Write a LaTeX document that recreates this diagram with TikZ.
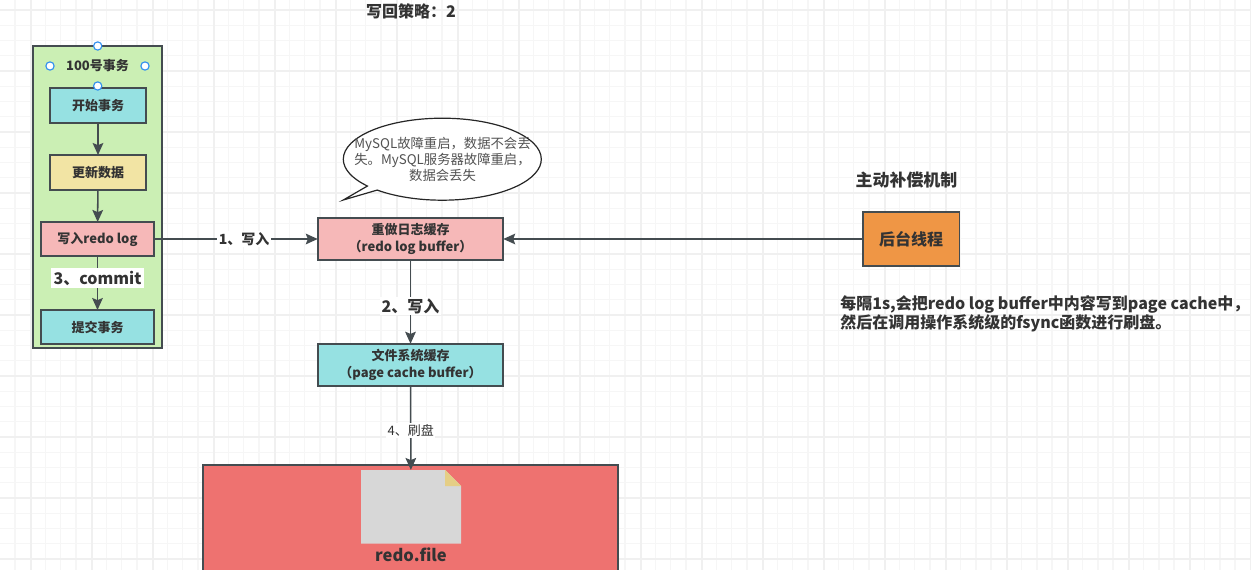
\documentclass[tikz,border=0pt]{standalone}
\usepackage{fontspec}
\setmainfont{Noto Sans CJK SC}
\usetikzlibrary{arrows.meta,shapes.callouts,shapes.geometric}
\definecolor{ink}{HTML}{333333}
\definecolor{edge}{HTML}{444C50}
\definecolor{teal}{HTML}{96E1E2}
\definecolor{straw}{HTML}{F2E4A4}
\definecolor{rose}{HTML}{F6B8B8}
\definecolor{leaf}{HTML}{CBEFB4}
\definecolor{amber}{HTML}{EF9645}
\definecolor{brick}{HTML}{EE7270}
\definecolor{fold}{HTML}{E5CE85}
\definecolor{hblue}{HTML}{2F8FEF}
\tikzset{
  x=0.75pt,y=-0.75pt,
  px/.style 2 args={minimum width=#1*0.75pt,minimum height=#2*0.75pt,inner sep=0pt,outer sep=0pt},
  box/.style={draw=edge,line width=1.15pt,text=ink,font=\bfseries\fontsize{9.75pt}{12.6pt}\selectfont,align=center},
  flow/.style={draw=edge,line width=1.15pt,-{Stealth[length=9pt,width=8pt,inset=1.6pt]}},
  lbl/.style={fill=white,text=ink,inner sep=1pt},
  txt/.style={text=ink,inner sep=0pt,font=\bfseries\fontsize{12pt}{14pt}\selectfont},
  handle/.style={circle,draw=hblue,fill=white,line width=0.85pt,minimum size=6.2pt,inner sep=0pt},
  gridminor/.style={draw=black!3.5,line width=1.1pt},
  gridmajor/.style={draw=black!6,line width=1.4pt},
}
\begin{document}
\begin{tikzpicture}
\useasboundingbox (0,0) rectangle (1251,570);
\clip (0,0) rectangle (1251,570);
\fill[white] (0,0) rectangle (1251,570);
% grid
\foreach \i in {0,...,82}{\draw[gridminor] ({-0.25+15.25*\i},0) -- ({-0.25+15.25*\i},570);}
\foreach \i in {0,...,37}{\draw[gridminor] (0,{10+15.25*(\i-1)}) -- (1251,{10+15.25*(\i-1)});}
\foreach \i in {0,...,20}{\draw[gridmajor] ({30.7+61*\i},0) -- ({30.7+61*\i},570);}
\foreach \i in {0,...,9}{\draw[gridmajor] (0,{10+61*\i}) -- (1251,{10+61*\i});}
% title
\node[txt] (policy) at (411,11) {写回策略：2};
% transaction container
\node[box,fill=leaf,px={129}{302}] (tx) at (97.5,197) {};
\node[box,draw=none,fill=none] (txname) at (97.5,66) {100号事务};
\node[box,fill=teal,px={96}{35}] (start) at (98,105.5) {开始事务};
\node[box,fill=straw,px={96}{35}] (update) at (98,172.5) {更新数据};
\node[box,fill=rose,px={113}{34}] (write) at (97.5,239) {写入redo log};
\node[box,fill=teal,px={113}{34}] (commit) at (97.5,327) {提交事务};
\node[handle] (h1) at (97.7,46) {};
\node[handle] (h2) at (50,66) {};
\node[handle] (h3) at (145,66) {};
\node[handle] (h4) at (97.7,86) {};
% centre column
\node[box,fill=rose,px={185.5}{42.5}] (buffer) at (410.5,239) {重做日志缓存\\（redo log buffer）};
\node[box,fill=teal,px={185.5}{42.5}] (cache) at (410.5,365) {文件系统缓存\\（page cache buffer）};
\node[box,fill=brick,px={415.5}{140}] (disk) at (410.5,535) {};
\fill[black!15.5] (361,470) -- (445,470) -- (461,486) -- (461,543.7) -- (361,543.7) -- cycle;
\fill[fold] (445,470) -- (461,486) -- (445,486) -- cycle;
\node[px={100}{73.7}] (doc) at (411,506.8) {};
\node[txt,font=\bfseries\fontsize{12.4pt}{14pt}\selectfont] (file) at (411,555) {redo.file};
% bubble
\node[ellipse callout,draw=black!85,fill=white,line width=0.9pt,px={198}{82},callout absolute pointer={(343.3,200)},callout pointer arc=8] (bubble) at (442.3,159.2) {};
\node[text=ink!85,font=\fontsize{10pt}{12.2pt}\selectfont,align=center,inner sep=0pt] (bubbletext) at (442.5,159.5) {MySQL故障重启，数据不会丢\\失。MySQL服务器故障重启，\\数据会丢失};
% thread
\node[txt,font=\bfseries\fontsize{12.7pt}{14pt}\selectfont] (comp) at (906.5,180) {主动补偿机制};
\node[box,fill=amber,px={96.5}{54.5},font=\bfseries\fontsize{12pt}{14pt}\selectfont] (thread) at (911,239) {后台线程};
\node[txt,anchor=north west,align=left,font=\bfseries\fontsize{12pt}{14.6pt}\selectfont] (note) at (840,295) {每隔1s,会把redo log buffer中内容写到page cache中，\\然后在调用操作系统级的fsync函数进行刷盘。};
% connectors
\draw[flow] (start) -- (update);
\draw[flow] (update) -- (write);
\draw[flow] (write) -- node[lbl,inner sep=2pt,font=\bfseries\fontsize{12pt}{14pt}\selectfont,pos=.41] (l3) {3、commit} (commit);
\draw[flow] (write) -- node[lbl,font=\fontsize{10.5pt}{12pt}\selectfont\bfseries,pos=.55] (l1) {1、写入} (buffer);
\draw[flow] (buffer) -- node[lbl,font=\bfseries\fontsize{12pt}{14pt}\selectfont,pos=.55] (l2) {2、写入} (cache);
\draw[flow] (cache) -- node[lbl,font=\fontsize{9.75pt}{12pt}\selectfont,pos=.53] (l4) {4、刷盘} (doc);
\draw[flow] (thread) -- (buffer);
\end{tikzpicture}
\end{document}
